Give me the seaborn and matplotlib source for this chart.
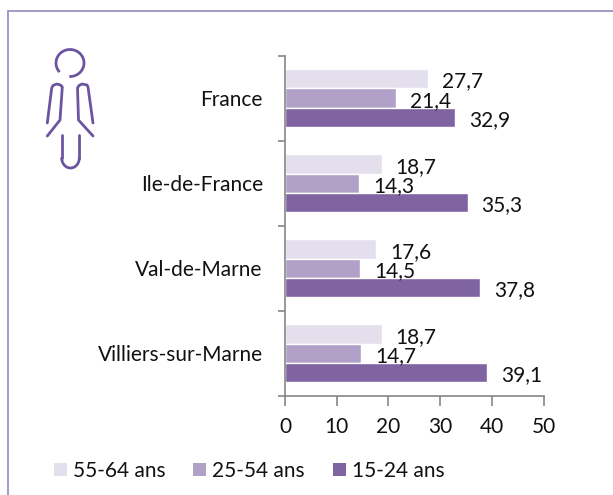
import matplotlib
matplotlib.use('Agg')
import matplotlib.pyplot as plt
import numpy as np
import pandas as pd
import seaborn as sns
from matplotlib.lines import Line2D
from matplotlib.patches import Arc, Rectangle

territories = ['France', 'Ile-de-France', 'Val-de-Marne', 'Villiers-sur-Marne']
age_groups = ['55-64 ans', '25-54 ans', '15-24 ans']
vals_55_64 = [27.7, 18.7, 17.6, 18.7]
vals_25_54 = [21.4, 14.3, 14.5, 14.7]
vals_15_24 = [32.9, 35.3, 37.8, 39.1]
colors = ['#e4dfec', '#b1a0c7', '#8064a2']

W, H = 613, 495

sns.set_theme(style='white')
plt.rcParams['font.family'] = ['Lato', 'DejaVu Sans']

df = pd.DataFrame({
    'territoire': territories * 3,
    'age': np.repeat(age_groups, 4),
    'taux': vals_55_64 + vals_25_54 + vals_15_24,
})

fig = plt.figure(figsize=(W / 100, H / 100), dpi=100)

# pixel helpers, y counted from the top like in the picture
def fx(p):
    return p / W
def fy(p):
    return 1 - p / H

# outer frame, only the left and top sides are in the image
frame = '#9c92c6'
fig.add_artist(Line2D([fx(7.5), fx(7.5), 1], [0, fy(10.5), fy(10.5)], transform=fig.transFigure,
                      color=frame, lw=1.3, solid_joinstyle='miter'))

ax = fig.add_axes([fx(285), fy(396), 258.5 / W, 340.5 / H])
sns.barplot(data=df, y='territoire', x='taux', hue='age', order=territories, hue_order=age_groups,
            palette=colors, width=0.68, saturation=1, dodge=True, legend=False, ax=ax)
ax.set_xlim(0, 50)
ax.set_ylim(3.5, -0.5)
ax.set(xlabel='', ylabel='')

for c in ax.containers:
    labels = ax.bar_label(c, labels=[f'{b.get_width():.1f}'.replace('.', ',') for b in c], padding=10,
                          fontsize=15, color='#111111')
    for t in labels:
        t.xyann = (10, -2)  # labels sit a bit under the bar centre

grey = '#868686'
for s in ['top', 'right']:
    ax.spines[s].set_visible(False)
for s in ['left', 'bottom']:
    ax.spines[s].set_color(grey)
    ax.spines[s].set_linewidth(1.2)

ax.set_xticks(range(0, 51, 10))
ax.tick_params(axis='x', length=7, width=1.2, color=grey, labelsize=15, labelcolor='#111111', pad=8, bottom=True)
ax.set_yticks(range(4), territories)
ax.tick_params(axis='y', which='major', length=0, labelsize=15, labelcolor='#111111', pad=16)
ax.set_yticks(np.arange(-0.5, 4), minor=True)
ax.tick_params(axis='y', which='minor', length=5, width=1.2, color=grey, left=True)

# legend
handles = [Rectangle((0, 0), 1, 1, fc=c, ec='none') for c in colors]
fig.legend(handles, age_groups, loc='center left', bbox_to_anchor=(fx(54), fy(471)), ncol=3, frameon=False,
           fontsize=15, handlelength=0.63, handleheight=0.63, handletextpad=0.29, columnspacing=1.32,
           borderpad=0, borderaxespad=0, labelcolor='#111111')

# person pictogram
purple = '#6b559f'
icon = fig.add_axes([0, 0, 1, 1], facecolor='none')
icon.set_xlim(0, W)
icon.set_ylim(H, 0)
icon.axis('off')
lw = 2.0
icon.add_patch(Arc((70, 63), 28, 27, theta1=139, theta2=453, ec=purple, lw=lw))
paths = [
    ([47.3, 51.7, 53, 56.7, 60.5, 62.3, 60, 47.3], [123, 88, 85.5, 84, 85, 87, 120, 136]),
    ([93, 88, 87, 82, 79, 77.5, 78.5, 93], [123, 87, 85, 84, 85.5, 88, 120, 136]),
]
for xs, ys in paths:
    icon.add_line(Line2D(xs, ys, color=purple, lw=lw, solid_capstyle='round', solid_joinstyle='round'))
icon.add_line(Line2D([61.7, 61.7], [135, 158], color=purple, lw=lw, solid_capstyle='round'))
icon.add_line(Line2D([79.3, 79.3], [135, 158], color=purple, lw=lw, solid_capstyle='round'))
icon.add_patch(Arc((70.5, 158), 17.6, 20, theta1=-5, theta2=185, ec=purple, lw=lw))

fig.savefig('out.png', dpi=100)
